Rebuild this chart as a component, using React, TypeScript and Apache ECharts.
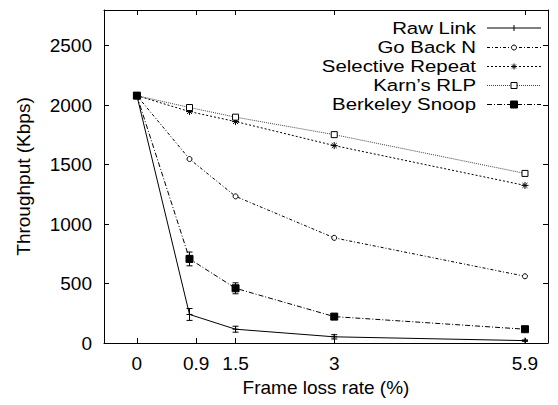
import React, { useEffect, useRef } from "react";
import * as echarts from "echarts";

// ---- data ----
const xValues = [0, 0.8, 1.5, 3, 5.9];
const xTickLabels = [0, 0.9, 1.5, 3, 5.9];
const yTickValues = [0, 500, 1000, 1500, 2000, 2500];

const rawLink = [2080, 240, 116, 52, 20];
const rawLinkErr = [0, 50, 25, 18, 6];
const goBackN = [2080, 1547, 1233, 884, 561];
const selectiveRepeat = [2080, 1946, 1862, 1660, 1325];
const karnsRLP = [2080, 1980, 1899, 1752, 1426];
const berkeleySnoop = [2080, 707, 460, 222, 116];
const berkeleySnoopErr = [0, 58, 46, 15, 6];

const seriesNames = ["Raw Link", "Go Back N", "Selective Repeat", "Karn\u2019s RLP", "Berkeley Snoop"];

const FONT = "'Liberation Sans', Arial, Helvetica, sans-serif";

const PLUS = "path://M0,5L10,5M5,0L5,10";
const STAR = "path://M0,5L10,5M5,0L5,10M1.5,1.5L8.5,8.5M8.5,1.5L1.5,8.5";

type Sty = {
  dash: number[] | "solid";
  color: string;
  symbol: string;
  symbolSize: number;
  fill: string;
};

const styles: Sty[] = [
  { dash: "solid", color: "#000", symbol: PLUS, symbolSize: 6, fill: "#000" },
  { dash: [3, 2, 1, 2], color: "#000", symbol: "circle", symbolSize: 5, fill: "#fff" },
  { dash: [2, 2], color: "#000", symbol: STAR, symbolSize: 7, fill: "#000" },
  { dash: [1, 1], color: "#444", symbol: "rect", symbolSize: 6, fill: "#fff" },
  { dash: [5, 2, 1, 2], color: "#000", symbol: "rect", symbolSize: 7, fill: "#000" },
];

const seriesData = [rawLink, goBackN, selectiveRepeat, karnsRLP, berkeleySnoop];

function errorBarSeries(values: number[], errs: number[]) {
  return {
    type: "custom",
    xAxisIndex: 0,
    yAxisIndex: 0,
    silent: true,
    z: 4,
    encode: { x: 0, y: 1 },
    data: xValues.map((x, i) => [x, values[i], errs[i]]),
    renderItem: (params: any, api: any) => {
      const x = api.value(0);
      const y = api.value(1);
      const e = api.value(2);
      if (!e) return { type: "group", children: [] };
      const top = api.coord([x, y + e]);
      const bot = api.coord([x, y - e]);
      const w = 3;
      const st = { stroke: "#000", lineWidth: 1 };
      return {
        type: "group",
        children: [
          { type: "line", shape: { x1: top[0], y1: top[1], x2: bot[0], y2: bot[1] }, style: st },
          { type: "line", shape: { x1: top[0] - w, y1: top[1], x2: top[0] + w, y2: top[1] }, style: st },
          { type: "line", shape: { x1: bot[0] - w, y1: bot[1], x2: bot[0] + w, y2: bot[1] }, style: st },
        ],
      };
    },
  };
}

function legendGraphic() {
  const children: any[] = [];
  const textRight = 476;
  const lx1 = 487;
  const lx2 = 541;
  const mx = 514;
  const rows = [28, 47.5, 66.5, 85.5, 104.5];
  seriesNames.forEach((name, i) => {
    const y = rows[i];
    const s = styles[i];
    children.push({
      type: "text",
      x: textRight,
      y: y,
      scaleX: 1.2,
      style: {
        text: name,
        align: "right",
        verticalAlign: "middle",
        fontFamily: FONT,
        fontSize: 17,
        fill: "#000",
      },
    });
    children.push({
      type: "line",
      shape: { x1: lx1, y1: y, x2: lx2, y2: y },
      style: { stroke: s.color, lineWidth: 1, lineDash: s.dash === "solid" ? null : s.dash },
    });
    const ln = { stroke: "#000", lineWidth: 1 };
    if (i === 0) {
      children.push({ type: "line", shape: { x1: mx, y1: y - 3, x2: mx, y2: y + 3 }, style: ln });
    } else if (i === 1) {
      children.push({ type: "circle", shape: { cx: mx, cy: y, r: 2.5 }, style: { fill: "#fff", stroke: "#000", lineWidth: 1 } });
    } else if (i === 2) {
      children.push({ type: "line", shape: { x1: mx - 3, y1: y, x2: mx + 3, y2: y }, style: ln });
      children.push({ type: "line", shape: { x1: mx, y1: y - 3, x2: mx, y2: y + 3 }, style: ln });
      children.push({ type: "line", shape: { x1: mx - 2, y1: y - 2, x2: mx + 2, y2: y + 2 }, style: ln });
      children.push({ type: "line", shape: { x1: mx + 2, y1: y - 2, x2: mx - 2, y2: y + 2 }, style: ln });
    } else if (i === 3) {
      children.push({ type: "rect", shape: { x: mx - 3, y: y - 3, width: 6, height: 6 }, style: { fill: "#fff", stroke: "#000", lineWidth: 1 } });
    } else {
      children.push({ type: "rect", shape: { x: mx - 3.5, y: y - 3.5, width: 7, height: 7 }, style: { fill: "#000", stroke: "#000", lineWidth: 1 } });
    }
  });
  return [{ type: "group", children }];
}

export default function App() {
  const ref = useRef<HTMLDivElement>(null);

  useEffect(() => {
    document.body.style.margin = "0";
    const chart = echarts.init(ref.current!, null, { renderer: "svg" });

    const axisLine = { show: true, onZero: false, lineStyle: { color: "#000", width: 1 } };
    const labelStyle = { color: "#000", fontSize: 19, fontFamily: FONT };

    const xMin = -0.5;
    const xMax = 6.25;

    const lineSeries = seriesNames.map((name, i) => {
      const s = styles[i];
      return {
        name,
        type: "line",
        xAxisIndex: 0,
        yAxisIndex: 0,
        data: xValues.map((x, j) => [x, seriesData[i][j]]),
        symbol: s.symbol,
        symbolSize: s.symbolSize,
        showSymbol: true,
        z: 3,
        lineStyle: { color: s.color, width: 1, type: s.dash },
        itemStyle: { color: s.fill, borderColor: "#000", borderWidth: 1 },
        emphasis: { disabled: true },
      };
    });

    chart.setOption({
      animation: false,
      backgroundColor: "#fff",
      grid: { left: 104, right: 10, top: 10, bottom: 62 },
      xAxis: [
        {
          type: "value",
          position: "bottom",
          min: xMin,
          max: xMax,
          axisLine,
          axisTick: { show: true, inside: true, length: 5, customValues: xTickLabels, lineStyle: { color: "#000" } },
          axisLabel: { show: true, customValues: xTickLabels, margin: 11, ...labelStyle, formatter: (v: number) => String(v) },
          splitLine: { show: false },
          name: "Frame loss rate (%)",
          nameLocation: "middle",
          nameGap: 31,
          nameTextStyle: { ...labelStyle },
        },
        {
          type: "value",
          position: "top",
          min: xMin,
          max: xMax,
          axisLine,
          axisTick: { show: true, inside: true, length: 5, customValues: xTickLabels, lineStyle: { color: "#000" } },
          axisLabel: { show: false },
          splitLine: { show: false },
        },
      ],
      yAxis: [
        {
          type: "value",
          position: "left",
          min: 0,
          max: 2800,
          axisLine,
          axisTick: { show: true, inside: true, length: 5, customValues: yTickValues, lineStyle: { color: "#000" } },
          axisLabel: { show: true, customValues: yTickValues, margin: 12, ...labelStyle, formatter: (v: number) => String(v) },
          splitLine: { show: false },
          name: "Throughput (Kbps)",
          nameLocation: "middle",
          nameGap: 71,
          nameTextStyle: { ...labelStyle },
        },
        {
          type: "value",
          position: "right",
          min: 0,
          max: 2800,
          axisLine,
          axisTick: { show: true, inside: true, length: 5, customValues: yTickValues, lineStyle: { color: "#000" } },
          axisLabel: { show: false },
          splitLine: { show: false },
        },
      ],
      series: [
        ...lineSeries,
        errorBarSeries(rawLink, rawLinkErr),
        errorBarSeries(berkeleySnoop, berkeleySnoopErr),
      ],
      graphic: legendGraphic(),
    });

    return () => chart.dispose();
  }, []);

  return <div ref={ref} style={{ width: 558, height: 405 }} />;
}
